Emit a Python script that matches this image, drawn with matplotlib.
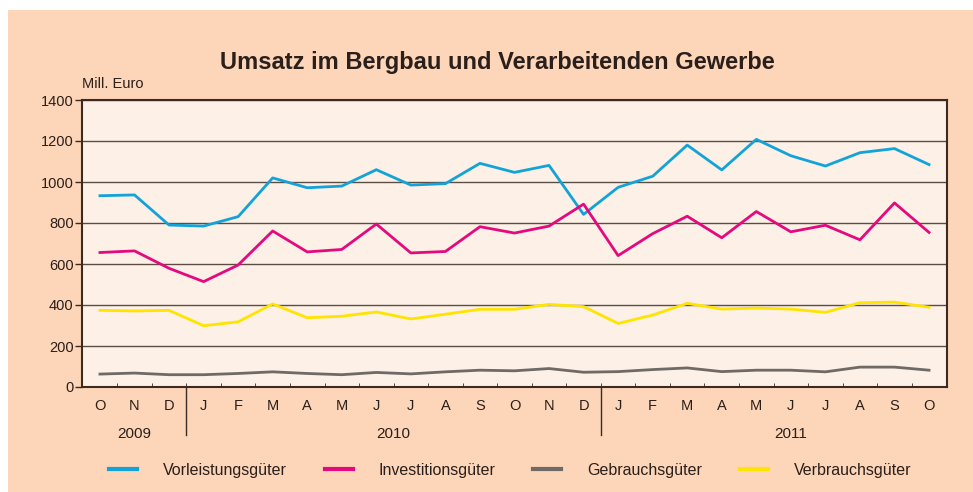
import matplotlib.pyplot as plt
from matplotlib.patches import Rectangle
from matplotlib.lines import Line2D
import matplotlib.transforms as mtransforms

plt.rcParams['font.family'] = ['Liberation Sans', 'DejaVu Sans']

months = ['O', 'N', 'D',
          'J', 'F', 'M', 'A', 'M', 'J', 'J', 'A', 'S', 'O', 'N', 'D',
          'J', 'F', 'M', 'A', 'M', 'J', 'J', 'A', 'S', 'O']
years = ['2009', '2010', '2011']

vorleistung = [933, 937, 790, 785, 831, 1020, 972, 980, 1060, 985, 992, 1091,
               1047, 1081, 842, 974, 1028, 1180, 1059, 1208, 1128, 1078, 1143, 1163, 1085]
investition = [656, 664, 579, 514, 595, 761, 659, 671, 795, 654, 661, 782,
               751, 785, 892, 641, 748, 833, 728, 856, 757, 789, 718, 898, 754]
gebrauch = [63, 68, 60, 60, 66, 74, 66, 60, 71, 64, 74, 82,
            79, 90, 72, 75, 85, 93, 75, 82, 82, 74, 97, 97, 82]
verbrauch = [374, 371, 374, 299, 318, 405, 338, 345, 366, 332, 355, 379,
             379, 403, 392, 310, 351, 408, 380, 385, 380, 364, 411, 414, 389]

series = [
    ('Vorleistungsgüter', vorleistung, '#12a3d8'),
    ('Investitionsgüter', investition, '#e5097f'),
    ('Gebrauchsgüter', gebrauch, '#6f6a66'),
    ('Verbrauchsgüter', verbrauch, '#ffe400'),
]

fig = plt.figure(figsize=(9.73, 4.92), dpi=100, facecolor='white')
fig.patches.append(Rectangle((8 / 973, 0), 1, 1 - 10 / 492, transform=fig.transFigure,
                             facecolor='#fdd5b9', edgecolor='none', zorder=-10))

ax = fig.add_axes([82 / 973, 105 / 492, 865 / 973, 287 / 492])
ax.set_facecolor('#fdf0e6')

x = list(range(len(months)))
for name, vals, col in series:
    ax.plot(x, vals, color=col, lw=2.0, label=name, zorder=3)

ax.set_xlim(-0.52, len(months) - 1 + 0.52)
ax.set_ylim(0, 1400)
ax.set_yticks(range(0, 1401, 200))
ax.yaxis.grid(True, color='#5b4d44', lw=1.0)
ax.set_axisbelow(True)

for s in ax.spines.values():
    s.set_color('#3a2a20')
    s.set_linewidth(1.5)

ax.tick_params(axis='y', direction='out', length=5, width=1, color='#3a2a20',
               labelsize=10.5, labelcolor='#2a1f1a', pad=1)
ax.set_xticks(x)
ax.set_xticklabels(months)
ax.tick_params(axis='x', which='major', length=0, labelsize=10.5,
               labelcolor='#2a1f1a', pad=9)
ax.set_xticks([i + 0.5 for i in x[:-1]], minor=True)
ax.tick_params(axis='x', which='minor', direction='in', length=3, color='#3a2a20')

# year separators and labels
trans = mtransforms.blended_transform_factory(ax.transData, ax.transAxes)
for xs in [2.5, 14.5]:
    ax.add_line(Line2D([xs, xs], [0, -0.168], transform=trans, color='#3a2a20',
                       lw=1.0, clip_on=False))
for xc, yr in zip([1, 8.5, 20], years):
    ax.text(xc, -0.165, yr, transform=trans, ha='center', va='center',
            fontsize=11, color='#2a1f1a')

ax.text(0, 1.055, 'Mill. Euro', transform=ax.transAxes, ha='left', va='center',
        fontsize=10.5, color='#2a1f1a')
fig.text(497 / 973, 1 - 63 / 492, 'Umsatz im Bergbau und Verarbeitenden Gewerbe',
         ha='center', va='center', fontsize=17, fontweight='bold', color='#2a1f1a')

handles = [Line2D([], [], color=c, lw=3) for _, _, c in series]
fig.legend(handles, [n for n, _, _ in series], loc='center', ncol=4,
           bbox_to_anchor=(510 / 973, 1 - 470 / 492), frameon=False,
           fontsize=11.5, handlelength=1.75, handletextpad=1.6, columnspacing=2.4,
           labelcolor='#2a1f1a')

fig.savefig('out.png', dpi=100, facecolor=fig.get_facecolor())
